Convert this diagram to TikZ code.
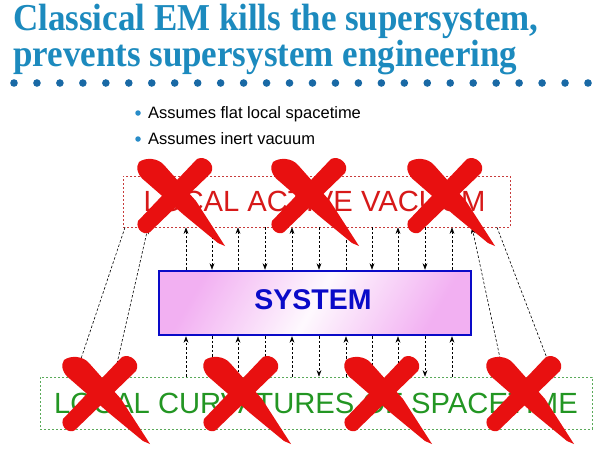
\documentclass[tikz,border=0pt]{standalone}
\usepackage{fontspec}
\setmainfont{Liberation Sans}
\newfontfamily\ttlfont{Liberation Serif}
\usetikzlibrary{arrows.meta,calc}
\definecolor{titleblue}{RGB}{28,138,190}
\definecolor{dotblue}{RGB}{25,105,165}
\definecolor{bulletblue}{RGB}{40,140,200}
\definecolor{boxred}{RGB}{200,60,60}
\definecolor{textred}{RGB}{215,25,25}
\definecolor{sysblue}{RGB}{10,10,200}
\definecolor{syspink}{RGB}{242,176,242}
\definecolor{boxgreen}{RGB}{90,170,90}
\definecolor{textgreen}{RGB}{35,150,35}
\definecolor{xred}{RGB}{232,16,16}
\tikzset{
  conn/.style={black, line width=0.6pt, dash pattern=on 2.6pt off 1.9pt,
    -{Stealth[length=6.5pt,width=4.8pt]}},
  titletext/.style={anchor=base west, inner sep=0pt, align=left,
    font=\ttlfont\bfseries\fontsize{38}{28}\selectfont},
  bullettext/.style={anchor=base west, inner sep=0pt,
    font=\fontsize{16.5}{18}\selectfont},
  bulletdot/.style={circle, fill=bulletblue, inner sep=0pt, minimum size=5.5pt},
  bigtext/.style={font=\fontsize{29.2}{31}\selectfont},
  redx/.pic={
    \fill[xred] (59,-1) .. controls (67,-5) and (78,4) .. (73,13)
      -- (12,72) .. controls (7,76) and (-3,70) .. (0,61) -- cycle;
    \fill[xred] (1,2) .. controls (8,-3) and (20,-2) .. (26,5)
      -- (58,41) -- (87,86) -- (80,83) -- (46,55) -- (7,21)
      .. controls (0,16) and (-3,7) .. (1,2) -- cycle;
    \fill[xred] (6,18) .. controls (10,24) and (16,28) .. (26,30)
      .. controls (18,26) and (14,22) .. (14,17) -- cycle;
  }
}
\begin{document}
\begin{tikzpicture}[x=1pt,y=-1pt]
\useasboundingbox[fill=white] (0,0) rectangle (596,450);

% title (one text block, two lines; base anchor = last line)
\node[titletext, text=titleblue] (title) at (13,66)
  {\scalebox{0.92}[1]{Classical EM kills the supersystem,}\\
   \scalebox{0.92}[1]{prevents supersystem engineering}};

% dotted rule
\foreach \i in {0,...,25}
  \fill[dotblue] ({14+\i*22.96},83) circle (3.8);

% bullets
\node[bulletdot] (b1) at (138,113) {};
\node[bullettext] (t1) at (148,118) {Assumes flat local spacetime};
\node[bulletdot] (b2) at (138,139) {};
\node[bullettext] (t2) at (148,144) {Assumes inert vacuum};

% boxes
\node[draw=boxred, line width=0.7pt, dash pattern=on 2pt off 2pt,
  minimum width=387pt, minimum height=51pt, inner sep=0pt,
  text=textred, bigtext] (vac) at (316.5,201.5) {\hspace*{-4pt}LOCAL ACTIVE VACUUM};

\node[draw=sysblue, line width=2.5pt, minimum width=312pt, minimum height=64pt,
  inner sep=0pt, top color=syspink, bottom color=syspink,
  middle color=white!92!syspink, shading angle=60] (sys) at (315,303) {};
\node[text=sysblue, font=\bfseries\fontsize{28.5}{30}\selectfont, inner sep=0pt]
  (syslabel) at (313,300) {SYSTEM};

\node[draw=boxgreen, line width=0.7pt, dash pattern=on 2pt off 2pt,
  minimum width=552pt, minimum height=52pt, inner sep=0pt,
  text=textgreen, bigtext] (bot) at (316,403) {LOCAL CURVATURES OF SPACETIME};

% vertical connectors
\foreach \x in {186,238,292,346,398,452}{
  \draw[conn] (sys.north -| \x,0) -- (vac.south -| \x,0);
  \draw[conn] (bot.north -| \x,0) -- (sys.south -| \x,0);
}
\foreach \x in {212,265,319,372,425}{
  \draw[conn] (vac.south -| \x,0) -- (sys.north -| \x,0);
  \draw[conn] (sys.south -| \x,0) -- (bot.north -| \x,0);
}
% diagonal connectors
\draw[conn] (vac.south -| 125,0) -- (bot.north -| 75,0);
\draw[conn] (bot.north -| 114,0) -- (vac.south -| 148,0);
\draw[conn] (bot.north -| 504,0) -- (vac.south -| 472,0);
\draw[conn] (vac.south -| 497,0) -- (bot.north -| 554,0);

% red crosses
\foreach \p in {(138,160),(272,160),(408,160),(63,358),(204,358),(345,358),(487,358)}
  \pic at \p {redx};
\end{tikzpicture}
\end{document}
